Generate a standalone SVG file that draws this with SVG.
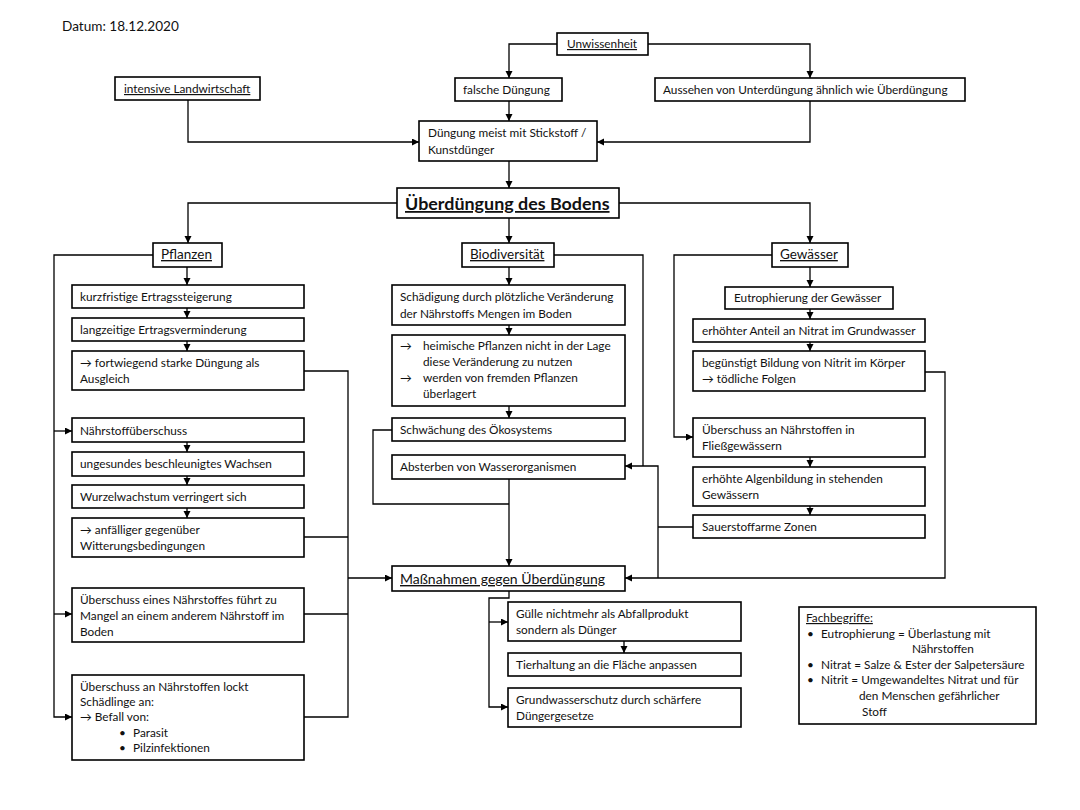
<svg xmlns="http://www.w3.org/2000/svg" width="1080" height="810" viewBox="0 0 1080 810">
<style>
.bg{fill:#fff}
.box{fill:#fff;stroke:#000;stroke-width:1.6}
.t{font-family:Lato,"Liberation Sans",sans-serif;font-size:11.8px;fill:#111}
.h{font-family:Lato,"Liberation Sans",sans-serif;font-size:13.5px;fill:#111;text-decoration:underline}
.u{text-decoration:underline}
.c{fill:none;stroke:#000;stroke-width:1.3}
</style>
<defs>
<marker id="a" markerUnits="userSpaceOnUse" markerWidth="8" markerHeight="8" refX="7" refY="3.5" orient="auto">
<path d="M0,0 L7,3.5 L0,7 z" fill="#000"/>
</marker>
</defs>
<rect class="bg" x="0" y="0" width="1080" height="810"/>
<text class="t" x="62" y="31" style="font-size:13.6px">Datum: 18.12.2020</text>

<g id="connectors">
<path class="c" d="M557,44 H509 V78" marker-end="url(#a)"/>
<path class="c" d="M648,44 H810 V78" marker-end="url(#a)"/>
<path class="c" d="M188,100 V142 H419" marker-end="url(#a)"/>
<path class="c" d="M509,101 V121" marker-end="url(#a)"/>
<path class="c" d="M810,101 V142 H597" marker-end="url(#a)"/>
<path class="c" d="M509,161 V188" marker-end="url(#a)"/>
<path class="c" d="M397,203 H188 V243" marker-end="url(#a)"/>
<path class="c" d="M509,218 V243" marker-end="url(#a)"/>
<path class="c" d="M619,203 H810 V243" marker-end="url(#a)"/>
<path class="c" d="M187,267 V285" marker-end="url(#a)"/>
<path class="c" d="M187,308 V318" marker-end="url(#a)"/>
<path class="c" d="M187,341 V351" marker-end="url(#a)"/>
<path class="c" d="M187,442 V452" marker-end="url(#a)"/>
<path class="c" d="M187,476 V485" marker-end="url(#a)"/>
<path class="c" d="M187,508 V518" marker-end="url(#a)"/>
<path class="c" d="M153,255 H54 V717 H72" marker-end="url(#a)"/>
<path class="c" d="M54,431 H72" marker-end="url(#a)"/>
<path class="c" d="M54,614 H72" marker-end="url(#a)"/>
<path class="c" d="M304,371 H348 V717 H304"/>
<path class="c" d="M304,537 H348"/>
<path class="c" d="M304,614 H348"/>
<path class="c" d="M348,578 H392" marker-end="url(#a)"/>
<path class="c" d="M509,267 V285" marker-end="url(#a)"/>
<path class="c" d="M509,325 V335" marker-end="url(#a)"/>
<path class="c" d="M509,406 V418" marker-end="url(#a)"/>
<path class="c" d="M392,430 H373 V504 H509"/>
<path class="c" d="M509,479 V566" marker-end="url(#a)"/>
<path class="c" d="M554,255 H643 V466"/>
<path class="c" d="M658,578 V466 H625" marker-end="url(#a)"/>
<path class="c" d="M693,527 H658"/>
<path class="c" d="M925,372 H945 V578 H625" marker-end="url(#a)"/>
<path class="c" d="M810,267 V287" marker-end="url(#a)"/>
<path class="c" d="M810,309 V319" marker-end="url(#a)"/>
<path class="c" d="M810,342 V351" marker-end="url(#a)"/>
<path class="c" d="M810,457 V467" marker-end="url(#a)"/>
<path class="c" d="M810,506 V515" marker-end="url(#a)"/>
<path class="c" d="M772,255 H674 V437 H693" marker-end="url(#a)"/>
<path class="c" d="M509,591 V598 H489 V707 H508" marker-end="url(#a)"/>
<path class="c" d="M489,622 H508" marker-end="url(#a)"/>
<path class="c" d="M624,641 V653" marker-end="url(#a)"/>
</g>

<g id="unwissenheit"><rect class="box" x="557" y="33" width="91" height="22"/><text class="t u" x="567" y="48">Unwissenheit</text></g>
<g id="intensive"><rect class="box" x="115" y="77" width="145" height="23"/><text class="t u" x="124" y="93">intensive Landwirtschaft</text></g>
<g id="falsche"><rect class="box" x="455" y="78" width="107" height="23"/><text class="t" x="463" y="94">falsche Düngung</text></g>
<g id="aussehen"><rect class="box" x="655" y="78" width="310" height="23"/><text class="t" x="663" y="94">Aussehen von Unterdüngung ähnlich wie Überdüngung</text></g>
<g id="duengung"><rect class="box" x="419" y="121" width="178" height="40"/><text class="t" x="428" y="137">Düngung meist mit Stickstoff /</text><text class="t" x="428" y="154">Kunstdünger</text></g>
<g id="ueberduengung"><rect class="box" x="397" y="188" width="222" height="30"/><text class="t u" x="405" y="210" style="font-size:17.9px;font-weight:bold">Überdüngung des Bodens</text></g>

<g id="pflanzen"><rect class="box" x="153" y="243" width="69" height="24"/><text class="h" x="161" y="259">Pflanzen</text></g>
<g id="biodiversitaet"><rect class="box" x="462" y="243" width="92" height="24"/><text class="h" x="470" y="259">Biodiversität</text></g>
<g id="gewaesser"><rect class="box" x="772" y="243" width="76" height="24"/><text class="h" x="780" y="259">Gewässer</text></g>

<g id="kurzfristig"><rect class="box" x="72" y="285" width="232" height="23"/><text class="t" x="80" y="301">kurzfristige Ertragssteigerung</text></g>
<g id="langzeitig"><rect class="box" x="72" y="318" width="232" height="23"/><text class="t" x="80" y="334">langzeitige Ertragsverminderung</text></g>
<g id="fortwiegend"><rect class="box" x="72" y="351" width="232" height="39"/><text class="t" x="80" y="367">→ fortwiegend starke Düngung als</text><text class="t" x="80" y="383">Ausgleich</text></g>
<g id="naehrstoffueberschuss"><rect class="box" x="72" y="418" width="232" height="24"/><text class="t" x="80" y="435">Nährstoffüberschuss</text></g>
<g id="ungesund"><rect class="box" x="72" y="452" width="232" height="24"/><text class="t" x="80" y="468">ungesundes beschleunigtes Wachsen</text></g>
<g id="wurzel"><rect class="box" x="72" y="485" width="232" height="23"/><text class="t" x="80" y="501">Wurzelwachstum verringert sich</text></g>
<g id="anfaellig"><rect class="box" x="72" y="518" width="232" height="39"/><text class="t" x="80" y="534">→ anfälliger gegenüber</text><text class="t" x="80" y="550">Witterungsbedingungen</text></g>
<g id="mangel"><rect class="box" x="72" y="588" width="232" height="54"/><text class="t" x="80" y="604">Überschuss eines Nährstoffes führt zu</text><text class="t" x="80" y="620">Mangel an einem anderem Nährstoff im</text><text class="t" x="80" y="636">Boden</text></g>
<g id="schaedlinge"><rect class="box" x="72" y="675" width="232" height="85"/><text class="t" x="80" y="691">Überschuss an Nährstoffen lockt</text><text class="t" x="80" y="706">Schädlinge an:</text><text class="t" x="80" y="721">→ Befall von:</text><text class="t" x="119" y="737">•</text><text class="t" x="133" y="737">Parasit</text><text class="t" x="119" y="752">•</text><text class="t" x="133" y="752">Pilzinfektionen</text></g>

<g id="schaedigung"><rect class="box" x="392" y="285" width="233" height="40"/><text class="t" x="400" y="301">Schädigung durch plötzliche Veränderung</text><text class="t" x="400" y="318">der Nährstoffs Mengen im Boden</text></g>
<g id="heimisch"><rect class="box" x="392" y="335" width="233" height="71"/><text class="t" x="400" y="350">→</text><text class="t" x="423" y="350">heimische Pflanzen nicht in der Lage</text><text class="t" x="423" y="366">diese Veränderung zu nutzen</text><text class="t" x="400" y="382">→</text><text class="t" x="423" y="382">werden von fremden Pflanzen</text><text class="t" x="423" y="398">überlagert</text></g>
<g id="schwaechung"><rect class="box" x="392" y="418" width="233" height="23"/><text class="t" x="400" y="434">Schwächung des Ökosystems</text></g>
<g id="absterben"><rect class="box" x="392" y="455" width="233" height="24"/><text class="t" x="400" y="471">Absterben von Wasserorganismen</text></g>
<g id="massnahmen"><rect class="box" x="392" y="566" width="233" height="25"/><text class="t u" x="400" y="584" style="font-size:14px">Maßnahmen gegen Überdüngung</text></g>

<g id="eutrophierung"><rect class="box" x="725" y="287" width="168" height="22"/><text class="t" x="734" y="302">Eutrophierung der Gewässer</text></g>
<g id="nitrat"><rect class="box" x="693" y="319" width="232" height="23"/><text class="t" x="702" y="335">erhöhter Anteil an Nitrat im Grundwasser</text></g>
<g id="nitrit"><rect class="box" x="693" y="351" width="232" height="40"/><text class="t" x="702" y="367">begünstigt Bildung von Nitrit im Körper</text><text class="t" x="702" y="383">→ tödliche Folgen</text></g>
<g id="fliessgewaesser"><rect class="box" x="693" y="418" width="232" height="39"/><text class="t" x="702" y="434">Überschuss an Nährstoffen in</text><text class="t" x="702" y="450">Fließgewässern</text></g>
<g id="algen"><rect class="box" x="693" y="467" width="232" height="39"/><text class="t" x="702" y="483">erhöhte Algenbildung in stehenden</text><text class="t" x="702" y="499">Gewässern</text></g>
<g id="sauerstoff"><rect class="box" x="693" y="515" width="232" height="23"/><text class="t" x="702" y="531">Sauerstoffarme Zonen</text></g>

<g id="guelle"><rect class="box" x="508" y="602" width="233" height="39"/><text class="t" x="516" y="618">Gülle nichtmehr als Abfallprodukt</text><text class="t" x="516" y="634">sondern als Dünger</text></g>
<g id="tierhaltung"><rect class="box" x="508" y="653" width="233" height="23"/><text class="t" x="516" y="669">Tierhaltung an die Fläche anpassen</text></g>
<g id="grundwasserschutz"><rect class="box" x="508" y="688" width="233" height="39"/><text class="t" x="516" y="704">Grundwasserschutz durch schärfere</text><text class="t" x="516" y="720">Düngergesetze</text></g>

<g id="fachbegriffe"><rect class="box" x="799" y="607" width="237" height="117"/>
<text class="t u" x="806" y="622">Fachbegriffe:</text>
<text class="t" x="807" y="638">•</text><text class="t" x="821" y="638">Eutrophierung = Überlastung mit</text>
<text class="t" x="912" y="653">Nährstoffen</text>
<text class="t" x="807" y="669">•</text><text class="t" x="821" y="669">Nitrat = Salze &amp; Ester der Salpetersäure</text>
<text class="t" x="807" y="684">•</text><text class="t" x="821" y="684">Nitrit = Umgewandeltes Nitrat und für</text>
<text class="t" x="859" y="700">den Menschen gefährlicher</text>
<text class="t" x="862" y="716">Stoff</text>
</g>
</svg>
